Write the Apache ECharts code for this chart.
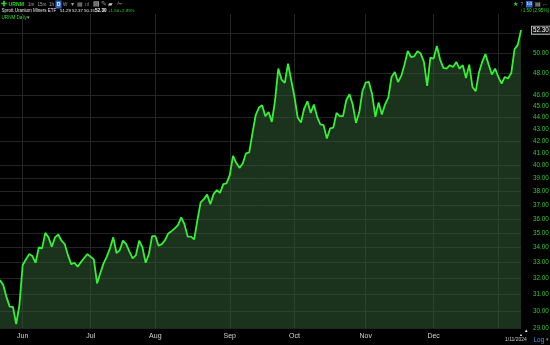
<!DOCTYPE html>
<html><head><meta charset="utf-8">
<script src="https://cdn.jsdelivr.net/npm/echarts@6/dist/echarts.min.js"></script>
<style>html,body{margin:0;padding:0;background:#000;}#c{width:550px;height:345px;}</style>
</head><body><div id="c"></div><script>
// ---- trading days (categories) ----
const daysMay23 = [22,23,24,25,26,30,31];
const daysJun23 = [1,2,5,6,7,8,9,12,13,14,15,16,20,21,22,23,26,27,28,29,30];
const daysJul23 = [3,5,6,7,10,11,12,13,14,17,18,19,20,21,24,25,26,27,28,31];
const daysAug23 = [1,2,3,4,7,8,9,10,11,14,15,16,17,18,21,22,23,24,25,28,29,30,31];
const daysSep23 = [1,5,6,7,8,11,12,13,14,15,18,19,20,21,22,25,26,27,28,29];
const daysOct23 = [2,3,4,5,6,9,10,11,12,13,16,17,18,19,20,23,24,25,26,27,30,31];
const daysNov23 = [1,2,3,6,7,8,9,10,13,14,15,16,17,20,21,22,24,27,28,29,30];
const daysDec23 = [1,4,5,6,7,8,11,12,13,14,15,18,19,20,21,22,26,27,28,29];
const daysJan24 = [2,3,4,5,8,9,10,11];

// ---- daily closes ----
const closeMay = [31.89,31.58,30.83,30.25,30.23,29.23,30.35];
const closeJun = [32.85,33.21,33.57,33.44,33.00,34.02,33.95,35.01,34.70,34.06,34.70,34.90,34.47,34.24,33.50,32.91,33.00,32.74,33.04,33.31,33.57];
const closeJul = [33.39,33.22,31.68,32.33,32.96,33.40,33.97,34.70,33.64,33.82,34.48,34.24,33.74,33.29,33.50,34.47,34.04,33.00,33.57,34.79];
const closeAug = [34.79,34.13,34.24,34.51,34.97,35.13,35.32,35.55,36.10,35.62,34.75,34.75,34.56,35.91,37.19,37.43,37.78,37.06,37.80,38.10,37.90,38.56,38.61];
const closeSep = [39.25,40.78,40.22,39.82,40.17,40.97,41.05,42.62,44.19,44.87,45.08,44.11,44.48,43.61,45.52,48.47,47.43,47.11,48.95,47.36];
const closeOct = [45.82,43.99,43.56,44.78,45.43,44.40,45.14,44.05,43.39,43.33,42.20,43.05,43.13,44.40,44.11,44.11,45.52,46.07,45.14,43.53,44.43,46.34];
const closeNov = [47.15,47.20,46.04,44.05,45.32,44.25,45.16,45.77,47.67,48.15,47.20,47.77,48.85,50.19,49.59,49.66,50.16,49.93,49.11,46.83,49.54];
const closeDec = [49.44,50.69,49.34,48.53,48.47,48.79,48.62,49.11,48.47,48.79,47.58,48.85,46.74,46.34,48.09,49.11,49.89,48.85,47.90,48.47];
const closeJan = [47.67,47.05,47.67,47.52,48.05,50.36,50.80,52.30];

// ---- axis ticks ----
const priceLabels = [29,30,31,32,33,34,35,36,37,38,39,40,41,42,43,44,45,46,48,50,52];
const priceGrid = [29,30,31,32,33,34,35,36,37,38,39,40,42,44,46,48,50,52];
const monthNames = {'06':'Jun','07':'Jul','08':'Aug','09':'Sep','10':'Oct','11':'Nov','12':'Dec'};
const lastClose = 52.30;

const monthDays = [['2023-05',daysMay23],['2023-06',daysJun23],['2023-07',daysJul23],['2023-08',daysAug23],
  ['2023-09',daysSep23],['2023-10',daysOct23],['2023-11',daysNov23],['2023-12',daysDec23],['2024-01',daysJan24]];
const dates = [];
monthDays.forEach(([ym, ds]) => ds.forEach(d => dates.push(ym + '-' + String(d).padStart(2,'0'))));
const closes = [].concat(closeMay,closeJun,closeJul,closeAug,closeSep,closeOct,closeNov,closeDec,closeJan);
const firstIdx = new Set();
dates.forEach((d,i)=>{ if(i>0 && d.slice(0,7)!==dates[i-1].slice(0,7)) firstIdx.add(i); });

const GRID = '#242424';
const CLEAR = 'rgba(0,0,0,0)';
const FONT = '"Liberation Sans", Arial, sans-serif';
const chart = echarts.init(document.getElementById('c'));

const gridLines = priceGrid.map(v => ({yAxis: v}));
const labelLines = priceLabels.map(v => ({yAxis: v}));

function txt(x, y, text, fill, size, weight, align) {
  return {type:'text', x:x, y:y, silent:true,
    style:{text:text, fill:fill, font:(weight||'normal')+' '+size+'px '+FONT, align:align||'left', verticalAlign:'middle'}};
}

chart.setOption({
  backgroundColor:'#000',
  animation:false,
  grid:{left:-1, right:29, top:14, bottom:17},
  xAxis:{type:'category', data:dates, boundaryGap:false,
    axisLine:{show:false}, axisTick:{show:false},
    splitLine:{show:true, interval:(i)=>firstIdx.has(i), lineStyle:{color:GRID, width:1}},
    axisLabel:{interval:(i, v)=>firstIdx.has(i) && !!monthNames[v.slice(5,7)] && v.slice(0,4)==='2023',
      formatter:(v)=>monthNames[v.slice(5,7)]||'', color:'#d4d4d4', fontSize:7, fontFamily:FONT, margin:5}},
  yAxis:{type:'log', min:29, max:54, axisLine:{show:false}, axisTick:{show:false},
    axisLabel:{show:false}, splitLine:{show:false}},
  series:[
    {type:'line', data:[], z:1, silent:true,
      markLine:{silent:true, symbol:'none', z:1, animation:false,
        lineStyle:{color:GRID, width:1, type:'solid'}, label:{show:false},
        data:gridLines}},
    {type:'line', data:closes, z:3, symbol:'none', smooth:false,
      lineStyle:{color:'#33f233', width:1.8},
      areaStyle:{color:'rgba(50,96,54,0.76)'},
      markLine:{silent:true, symbol:'none', z:6, animation:false,
        lineStyle:{color:CLEAR, width:0},
        label:{show:true, position:'end', distance:12, color:'#2fc92f', fontSize:6.3, fontFamily:FONT,
          formatter:(p)=>Number(p.value).toFixed(2)},
        data:labelLines.concat([{yAxis:lastClose, label:{show:true, position:'end', distance:11, color:'#ffffff',
          backgroundColor:'#101010', borderColor:'#b0b0b0', borderWidth:1, padding:[1,1,0,1], fontSize:6.3,
          formatter:()=>lastClose.toFixed(2)}}])}}
  ],
  graphic:[
    txt(1,4.5,'✚','#2fd52f',6.5,'bold'),
    txt(8.5,4.5,'URNM','#2fd52f',5.2,'bold'),
    txt(28,4.5,'1m','#a0a0a0',4.6),
    txt(37.5,4.5,'15m','#a0a0a0',4.6),
    txt(49,4.5,'1h','#a0a0a0',4.6),
    {type:'rect', shape:{x:55.5,y:0.5,width:6,height:8}, style:{fill:'#2f67c8'}, silent:true},
    txt(56.9,4.5,'D','#ffffff',4.8,'bold'),
    txt(63,4.5,'W','#a0a0a0',4.6),
    txt(70.5,4.5,'▾','#a0a0a0',5.5),
    txt(76.5,4.5,'▦','#8c8c8c',6),
    txt(85,4.5,'ııl','#8c8c8c',5),
    txt(93,4.5,'▤','#c8c8c8',6.5),
    txt(101,4.5,'✎','#8c8c8c',6.5),
    txt(108,4.5,'▰','#c8c8c8',6),
    txt(117,4.5,'✁','#8c8c8c',6.5),
    txt(1.5,11,'Sprott Uranium Miners ETF','#e6e6e6',4.5),
    txt(60,11,'51.29','#e6e6e6',4.4),
    txt(72,11,'52.37','#e6e6e6',4.4),
    txt(84,11,'50.15','#e6e6e6',4.4),
    txt(95,11,'52.30','#ffffff',4.6,'bold'),
    txt(108,11,'+1.50','#2fd52f',4.4),
    txt(119.5,11,'+2.95%','#2fd52f',4.4),
    txt(1.5,17.5,'URNM Daily','#2fd52f',4.6),
    txt(27,17.5,'▾','#a0a0a0',5),
    txt(512.5,4.5,'★','#2fd52f',6),
    txt(520.5,4.5,'?','#8c8c8c',5),
    {type:'rect', shape:{x:526,y:1,width:6.5,height:6.5}, style:{fill:'#2f67c8'}, silent:true},
    txt(526.8,4.3,'1:1','#ffffff',3.6,'bold'),
    txt(535,4.5,'▤','#c8c8c8',6),
    txt(542,4.5,'↔','#8c8c8c',6),
    txt(549,10.5,'↑1.50 (2.95%)','#2fd52f',4.6,'normal','right'),
    txt(530.5,29.3,'◂','#ffffff',4.5),
    txt(505,340,'1/11/2024','#c8c8c8',5),
    txt(533.5,340,'Log','#4f8fd8',6.5),
    txt(546,340,'▾','#8c8c8c',4.5),
    txt(524.5,331,'▴','#ffffff',4.5),
    txt(520,335,'▴','#ffffff',3.5)
  ]
});
</script></body></html>
